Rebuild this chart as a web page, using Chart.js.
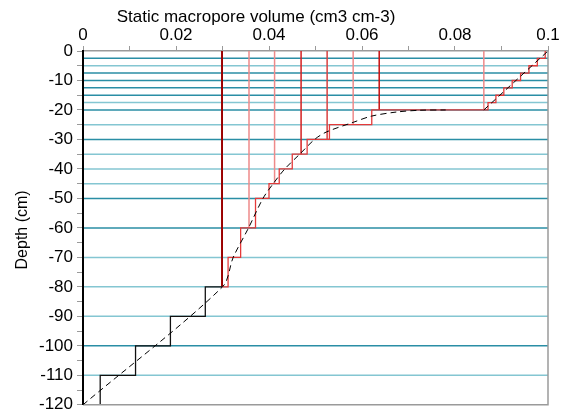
<!DOCTYPE html>
<html>
<head>
<meta charset="utf-8">
<script src="https://cdn.jsdelivr.net/npm/chart.js@4.4.1/dist/chart.umd.min.js"></script>
<style>
  body { margin: 0; background: #fff; }
</style>
</head>
<body>
<canvas id="chartProfile" width="563" height="419"></canvas>
<script>
// layer boundaries (cm) and the macropore volume of each layer
const layerDepths = [0, -2.5, -5, -7.5, -10, -12.5, -15, -17.5, -20, -25, -30, -35, -40, -45, -50, -60, -70, -80, -90, -100, -110, -120];
const layerVolumes = [0.0994, 0.0977, 0.0959, 0.0941, 0.0923, 0.0905, 0.0888, 0.0871,
                      0.0621, 0.0530, 0.0482, 0.0450, 0.0422, 0.0400, 0.0371, 0.0339, 0.0312,
                      0.0263, 0.0188, 0.0113, 0.0037];
const redLayerCount = 17;
const matrixVolume = 0.0299;

// vertical lines hanging from the surface
const dropVolumes = [0.0299, 0.0357, 0.0412, 0.0469, 0.0525, 0.0581, 0.0637, 0.0862];
const dropDepths = [-80, -60, -45, -35, -30, -25, -20, -20];

// fitted curve (dashed)
const curveVolumes = [0, 0.0300, 0.0323, 0.0356, 0.0387, 0.0409, 0.0434, 0.0466, 0.0498, 0.0523, 0.0581, 0.0620, 0.0674, 0.0724, 0.0780];
const curveDepths = [-120, -80, -70, -60, -50, -45, -40, -35, -30, -27.5, -24.2, -22.1, -20.7, -20.1, -20];
const topCurveVolumes = [0.0862, 0.1];
const topCurveDepths = [-20, 0];

// horizontal layer lines
const gridDepths = [-2.5, -5, -7.5, -10, -12.5, -15, -17.5, -20, -25, -30, -35, -40, -45, -50, -60, -70, -80, -90, -100, -110];
const darkGridDepths = [-2.5, -7.5, -10, -12.5, -15, -20, -30, -50, -60, -100];

const xTitle = 'Static macropore volume (cm3 cm-3)';
const yTitle = 'Depth (cm)';

const dropColors = ['#9b0000', '#ee8a8a', '#ee8a8a', '#d42020', '#d84040', '#ee8a8a', '#c81010', '#ee8a8a'];

function stairPoints(first, last) {
    const pts = [];
    for (let i = first; i < last; i++) {
        pts.push({ x: layerVolumes[i], y: layerDepths[i] });
        pts.push({ x: layerVolumes[i], y: layerDepths[i + 1] });
    }
    return pts;
}

const datasets = [];

datasets.push({
    data: curveVolumes.map((v, i) => ({ x: v, y: curveDepths[i] })),
    borderColor: '#000', borderWidth: 1, borderDash: [6, 4], tension: 0.3, order: 0
});
datasets.push({
    data: topCurveVolumes.map((v, i) => ({ x: v, y: topCurveDepths[i] })),
    borderColor: '#000', borderWidth: 1, borderDash: [6, 4], order: 0
});

const redStairs = stairPoints(0, redLayerCount);
redStairs.push({ x: matrixVolume, y: layerDepths[redLayerCount] });
datasets.push({ data: redStairs, borderColor: '#e43a3a', borderWidth: 1.3, order: 1 });

const blackStairs = [{ x: matrixVolume, y: layerDepths[redLayerCount] }]
    .concat(stairPoints(redLayerCount, layerVolumes.length));
blackStairs.push({ x: 0, y: layerDepths[layerDepths.length - 1] });
datasets.push({ data: blackStairs, borderColor: '#111', borderWidth: 1.3, order: 1 });

dropVolumes.forEach((v, i) => {
    datasets.push({
        data: [{ x: v, y: 0 }, { x: v, y: dropDepths[i] }],
        borderColor: dropColors[i], borderWidth: i === 0 ? 2 : 1.5, order: 2
    });
});

gridDepths.forEach(d => {
    datasets.push({
        data: [{ x: 0, y: d }, { x: 0.1, y: d }],
        borderColor: darkGridDepths.includes(d) ? '#2a8ea5' : '#84c6d2',
        borderWidth: 1.5, order: 5
    });
});

const font = { family: 'Liberation Sans, Arial', size: 17 };

// gray frame on the right and bottom, black line on the left, axis titles
const frame = {
    id: 'frame',
    afterDatasetsDraw(chart) {
        const a = chart.chartArea, ctx = chart.ctx;
        ctx.save();
        ctx.strokeStyle = '#9a9a9a';
        ctx.lineWidth = 1.5;
        ctx.beginPath();
        ctx.moveTo(a.left, a.bottom);
        ctx.lineTo(a.right, a.bottom);
        ctx.lineTo(a.right, a.top);
        ctx.stroke();
        ctx.strokeStyle = '#000';
        ctx.lineWidth = 2;
        ctx.beginPath();
        ctx.moveTo(a.left, a.top);
        ctx.lineTo(a.left, a.bottom);
        ctx.stroke();

        ctx.fillStyle = '#000';
        ctx.textAlign = 'center';
        ctx.textBaseline = 'middle';
        ctx.font = '17px "Liberation Sans", Arial';
        ctx.fillText(xTitle, 256, 17);
        ctx.translate(23, (a.top + a.bottom) / 2 + 2);
        ctx.rotate(-Math.PI / 2);
        ctx.font = '16px "Liberation Sans", Arial';
        ctx.fillText(yTitle, 0, 0);
        ctx.restore();
    }
};

const chartRef = document.querySelector('#chartProfile');
chartRef.chart = new Chart(chartRef, {
    type: 'scatter',
    data: { datasets: datasets },
    options: {
        responsive: false,
        animation: false,
        showLine: true,
        elements: { point: { radius: 0 } },
        layout: { padding: { left: 0, right: 15, top: 0, bottom: 12 } },
        plugins: { legend: { display: false }, tooltip: { enabled: false } },
        scales: {
            x: {
                position: 'top',
                min: 0, max: 0.1,
                afterFit: s => { s.height = 51; },
                grid: { drawOnChartArea: false, color: '#9a9a9a', tickLength: 5 },
                border: { color: '#9a9a9a', width: 1.5 },
                ticks: {
                    stepSize: 0.01, autoSkip: false, maxRotation: 0, padding: 0,
                    color: '#000', font: font,
                    callback: (v, i) => i % 2 === 0 ? String(Number(v.toFixed(2))) : ''
                }
            },
            y: {
                min: -120, max: 0,
                afterFit: s => { s.width = 83; },
                grid: { drawOnChartArea: false, color: '#9a9a9a', tickLength: 6 },
                border: { color: '#000', width: 2 },
                ticks: {
                    stepSize: 5, autoSkip: false, padding: 4,
                    color: '#000', font: font,
                    callback: v => v % 10 === 0 ? String(v) : ''
                }
            }
        }
    },
    plugins: [frame]
});
</script>
</body>
</html>
